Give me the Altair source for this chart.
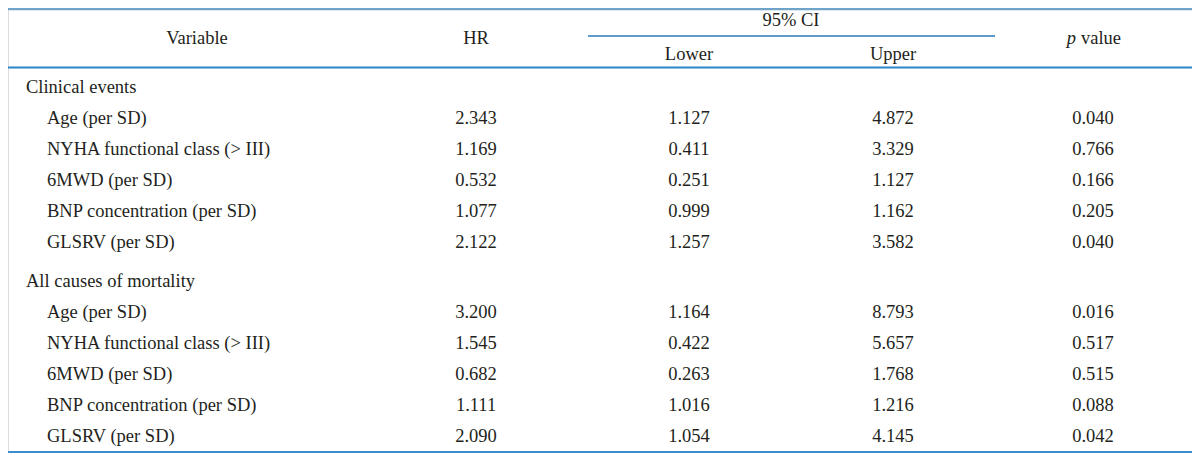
import altair as alt
import pandas as pd

# ---------------- data ----------------
groups = ["Clinical events", "All causes of mortality"]
variables = [
    "Age (per SD)",
    "NYHA functional class (> III)",
    "6MWD (per SD)",
    "BNP concentration (per SD)",
    "GLSRV (per SD)",
]
hr_clinical = [2.343, 1.169, 0.532, 1.077, 2.122]
lower_clinical = [1.127, 0.411, 0.251, 0.999, 1.257]
upper_clinical = [4.872, 3.329, 1.127, 1.162, 3.582]
p_clinical = [0.040, 0.766, 0.166, 0.205, 0.040]

hr_mortality = [3.200, 1.545, 0.682, 1.111, 2.090]
lower_mortality = [1.164, 0.422, 0.263, 1.016, 1.054]
upper_mortality = [8.793, 5.657, 1.768, 1.216, 4.145]
p_mortality = [0.016, 0.517, 0.515, 0.088, 0.042]

value_columns = ["HR", "Lower", "Upper", "p"]

# ---------------- layout (page-pixel units) ----------------
W, H = 1184, 445
X_DOMAIN = [8, 8 + W]
Y_DOMAIN = [8, 8 + H]
COL_X = {"HR": 476, "Lower": 689, "Upper": 893, "p": 1093}
GROUP_X = 26
ITEM_X = 47
FIRST_BASE = 93
STEP = 30.9
GROUP_GAP = 9
FONT = "'Liberation Serif', 'DejaVu Serif', serif"
FS = 18.5
INK = "#231f20"

xs = alt.Scale(domain=X_DOMAIN, range=[0, W], nice=False, zero=False)
ys = alt.Scale(domain=Y_DOMAIN, range=[0, H], nice=False, zero=False)

# ---------------- build table ----------------
series = [
    (hr_clinical, lower_clinical, upper_clinical, p_clinical),
    (hr_mortality, lower_mortality, upper_mortality, p_mortality),
]
label_rows, cell_rows = [], []
row = 0
for g, (hr, lo, up, pv) in enumerate(series):
    gap = g * GROUP_GAP
    label_rows.append({"text": groups[g], "x": GROUP_X, "y": FIRST_BASE + row * STEP + gap})
    row += 1
    for i, v in enumerate(variables):
        y = FIRST_BASE + row * STEP + gap
        label_rows.append({"text": v, "x": ITEM_X, "y": y})
        for col, vals in zip(value_columns, (hr, lo, up, pv)):
            cell_rows.append({"value": vals[i], "x": COL_X[col], "y": y})
        row += 1
labels_df = pd.DataFrame(label_rows)
cells_df = pd.DataFrame(cell_rows)

header_df = pd.DataFrame([
    {"text": "Variable", "x": 197, "y": 44},
    {"text": "HR", "x": 476, "y": 44},
    {"text": "95% CI", "x": 791, "y": 26},
    {"text": "Lower", "x": 689, "y": 60},
    {"text": "Upper", "x": 893, "y": 60},
])

rules_df = pd.DataFrame([
    {"x": 8, "x2": 1192, "y": 9.2, "c": "#6fa3c7", "w": 2.2},
    {"x": 588, "x2": 995, "y": 36, "c": "#2a7ab8", "w": 1.5},
    {"x": 8, "x2": 1192, "y": 67.5, "c": "#2b86c5", "w": 2},
    {"x": 8, "x2": 1192, "y": 452, "c": "#3b8fd0", "w": 2},
])

X = lambda f: alt.X(f, type="quantitative", scale=xs, axis=None)
Y = lambda f: alt.Y(f, type="quantitative", scale=ys, axis=None)

rules = alt.Chart(rules_df).mark_rule().encode(
    x=X("x"), x2="x2", y=Y("y"),
    color=alt.Color("c:N", scale=None),
    strokeWidth=alt.StrokeWidth("w:Q", scale=None),
)

header = alt.Chart(header_df).mark_text(
    font=FONT, fontSize=FS, color=INK, align="center", baseline="alphabetic"
).encode(x=X("x"), y=Y("y"), text="text:N")

p_italic = alt.Chart(pd.DataFrame([{"text": "p", "x": 1076, "y": 44}])).mark_text(
    font=FONT, fontSize=FS, color=INK, align="right", baseline="alphabetic", fontStyle="italic"
).encode(x=X("x"), y=Y("y"), text="text:N")

p_rest = alt.Chart(pd.DataFrame([{"text": "value", "x": 1081, "y": 44}])).mark_text(
    font=FONT, fontSize=FS, color=INK, align="left", baseline="alphabetic"
).encode(x=X("x"), y=Y("y"), text="text:N")

labels = alt.Chart(labels_df).mark_text(
    font=FONT, fontSize=FS, color=INK, align="left", baseline="alphabetic"
).encode(x=X("x"), y=Y("y"), text="text:N")

cells = alt.Chart(cells_df).mark_text(
    font=FONT, fontSize=FS, color=INK, align="center", baseline="alphabetic"
).encode(x=X("x"), y=Y("y"), text=alt.Text("value:Q", format=".3f"))

chart = alt.layer(rules, header, p_italic, p_rest, labels, cells).properties(
    width=W, height=H,
    autosize=alt.AutoSizeParams(type="none"),
    padding=0,
    background="white",
).configure_view(stroke=None).configure(font="Liberation Serif")

chart.save("out.html", embed_options={"renderer": "svg", "actions": False})
